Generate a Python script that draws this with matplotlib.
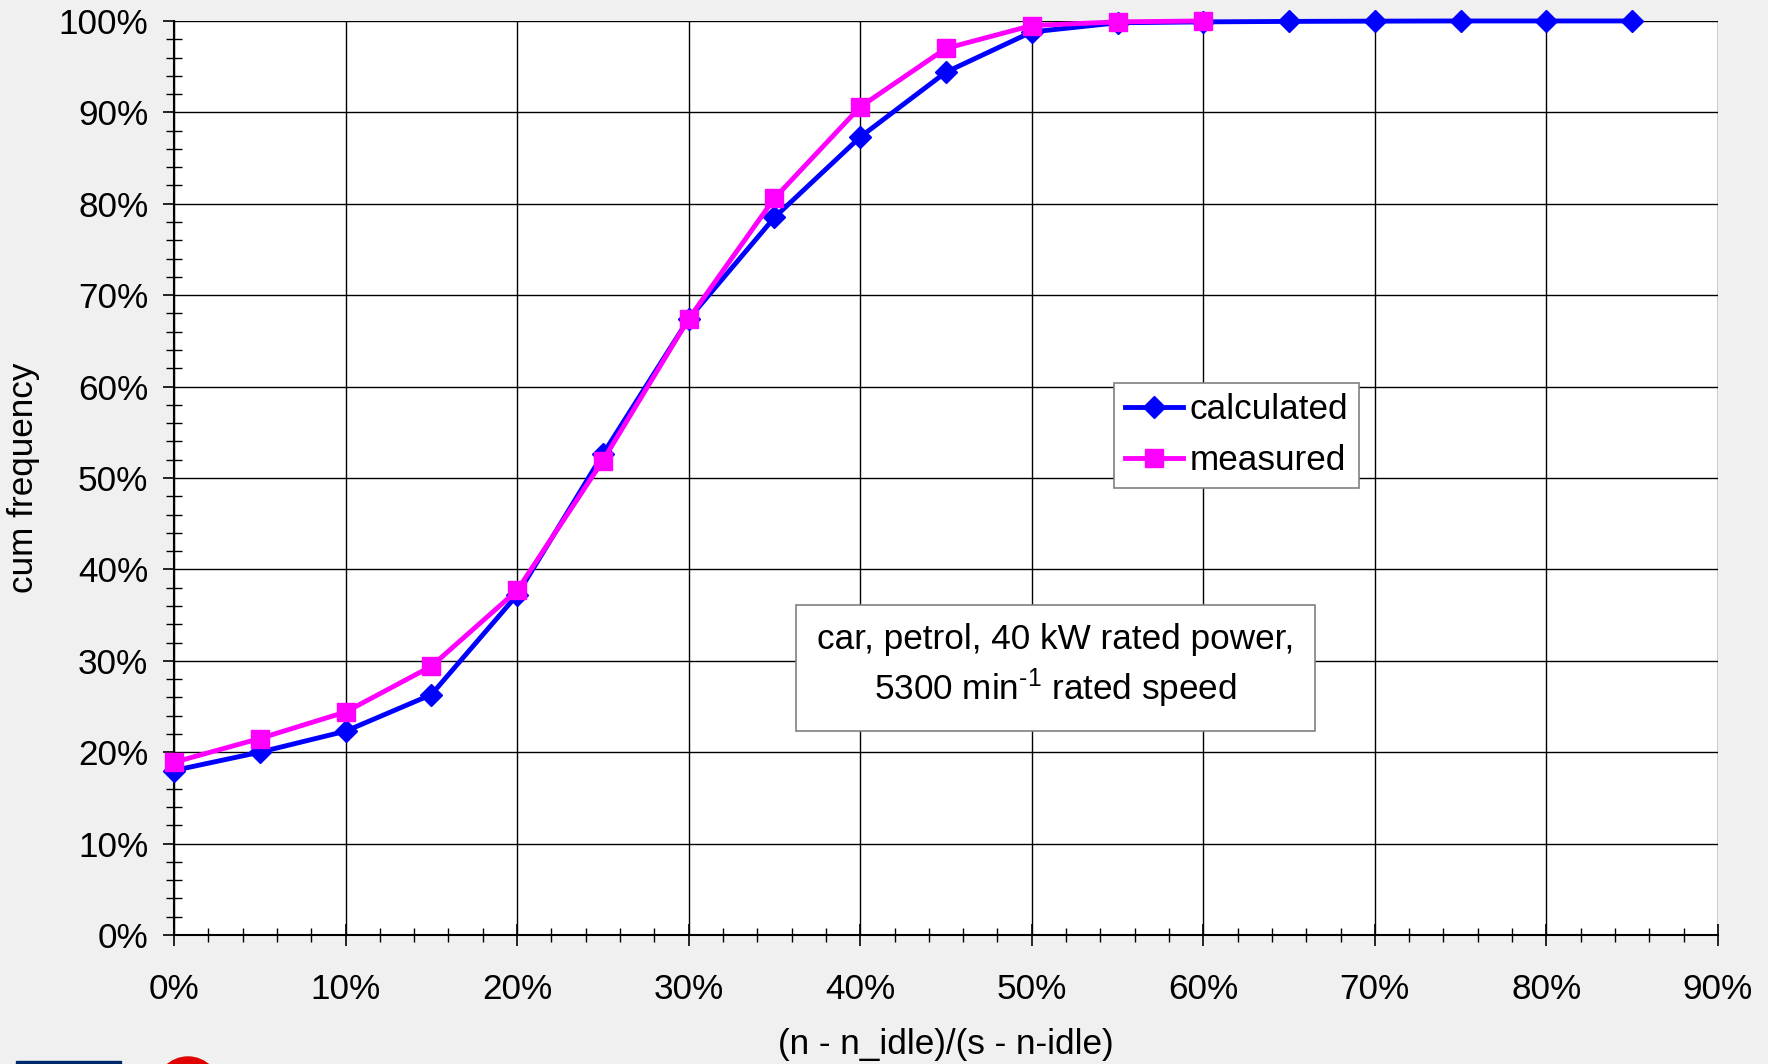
import matplotlib
matplotlib.use("Agg")
import matplotlib.pyplot as plt
from matplotlib.ticker import MultipleLocator, FuncFormatter
from matplotlib.patches import Rectangle, Circle
from matplotlib.transforms import IdentityTransform

plt.rcParams["font.family"] = ["Liberation Sans", "DejaVu Sans"]
plt.rcParams["mathtext.fontset"] = "custom"
plt.rcParams["mathtext.rm"] = "Liberation Sans"
plt.rcParams["mathtext.it"] = "Liberation Sans:italic"
plt.rcParams["mathtext.bf"] = "Liberation Sans:bold"
plt.rcParams["mathtext.default"] = "regular"

# normalised speed (%) and cumulative frequency (%)
x_calc = [0, 5, 10, 15, 20, 25, 30, 35, 40, 45, 50, 55, 60, 65, 70, 75, 80, 85]
y_calc = [18.0, 20.0, 22.3, 26.3, 37.2, 52.6, 67.4, 78.5, 87.3, 94.4,
          98.8, 99.8, 99.9, 99.95, 99.98, 100.0, 100.0, 100.0]
x_meas = [0, 5, 10, 15, 20, 25, 30, 35, 40, 45, 50, 55, 60]
y_meas = [18.9, 21.5, 24.4, 29.4, 37.7, 51.9, 67.4, 80.6, 90.6, 97.0,
          99.5, 99.9, 100.0]

fs = 25.3
bg = "#f0f0f0"
fig = plt.figure(figsize=(17.68, 10.64), dpi=100, facecolor=bg)
ax = fig.add_axes([0.0984, 0.1212, 0.8733, 0.8591])
ax.set_facecolor("white")

ax.plot(x_calc, y_calc, color="#0000ff", lw=3.5, marker="D", ms=11,
        label="calculated", zorder=3, clip_on=False)
ax.plot(x_meas, y_meas, color="#ff00ff", lw=3.5, marker="s", ms=13,
        label="measured", zorder=4, clip_on=False)

ax.set_xlim(0, 90)
ax.set_ylim(0, 100)
ax.xaxis.set_major_locator(MultipleLocator(10))
ax.xaxis.set_minor_locator(MultipleLocator(2))
ax.yaxis.set_major_locator(MultipleLocator(10))
ax.yaxis.set_minor_locator(MultipleLocator(2))
pct = FuncFormatter(lambda v, p: f"{v:.0f}%")
ax.xaxis.set_major_formatter(pct)
ax.yaxis.set_major_formatter(pct)

ax.grid(True, which="major", color="black", lw=1.0)
ax.set_axisbelow(True)
for s in ["top", "right"]:
    ax.spines[s].set_visible(False)
for s in ["left", "bottom"]:
    ax.spines[s].set_linewidth(1.5)

ax.tick_params(axis="x", which="major", direction="inout", length=16, width=1.2,
               labelsize=fs, pad=19)
ax.tick_params(axis="x", which="minor", direction="inout", length=10, width=1.0)
ax.tick_params(axis="y", which="major", direction="out", length=8, width=1.2,
               labelsize=fs, pad=10.5)
ax.tick_params(axis="y", which="minor", direction="inout", length=11.5, width=1.0)

ax.set_xlabel("(n - n_idle)/(s - n-idle)", fontsize=fs)
ax.set_ylabel("cum frequency", fontsize=fs)
ax.xaxis.set_label_coords(0.5, -0.102)
ax.yaxis.set_label_coords(-0.0868, 0.5)

leg = ax.legend(loc="upper left", bbox_to_anchor=(0.609, 0.604), fontsize=fs,
                fancybox=False, framealpha=1, edgecolor="#808080",
                handlelength=1.65, handletextpad=0.2, borderpad=0.3,
                labelspacing=0.5, borderaxespad=0)
leg.get_frame().set_linewidth(1.2)

ax.text(0.571, 0.294, "car, petrol, 40 kW rated power,\n5300 min$^{\\text{-1}}$ rated speed",
        transform=ax.transAxes, ha="center", va="center", fontsize=fs,
        linespacing=1.3,
        bbox=dict(boxstyle="square,pad=0.6", fc="white", ec="#808080", lw=1.2),
        zorder=5)

# partial logos at the bottom-left edge (pixel coordinates)
fig.patches.append(Rectangle((16, 0), 105, 3, transform=IdentityTransform(),
                             color="#00296b"))
fig.patches.append(Circle((188, -25), 32, transform=IdentityTransform(),
                          color="#e00000"))

fig.savefig("out.png", dpi=100, facecolor=bg)
